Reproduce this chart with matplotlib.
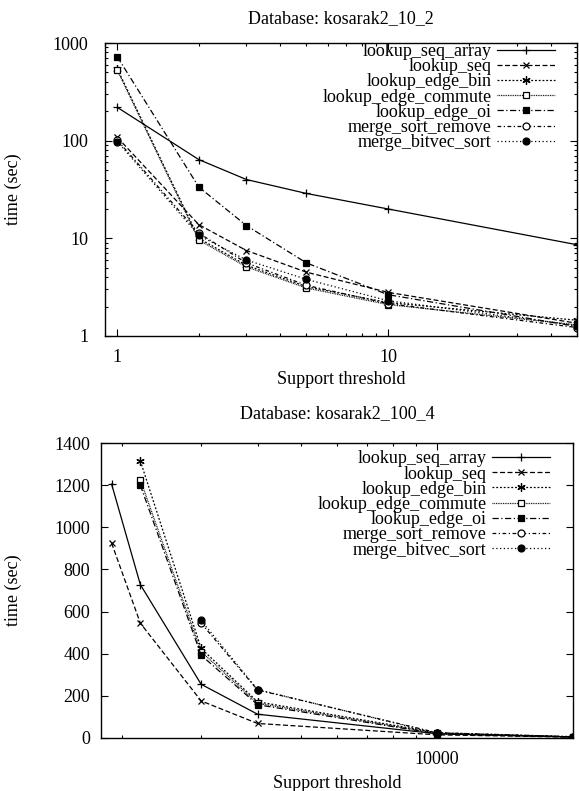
import numpy as np
import matplotlib
matplotlib.use("Agg")
import matplotlib.pyplot as plt
from matplotlib.ticker import LogLocator, NullFormatter, FixedLocator, FuncFormatter, MultipleLocator

plt.rcParams['font.family'] = ['Liberation Serif', 'DejaVu Serif']
plt.rcParams['font.size'] = 13

series_names = ["lookup_seq_array", "lookup_seq", "lookup_edge_bin",
                "lookup_edge_commute", "lookup_edge_oi",
                "merge_sort_remove", "merge_bitvec_sort"]

# Top chart: Database kosarak2_10_2
top_title = "Database: kosarak2_10_2"
top_support = [1, 2, 3, 5, 10, 50]
top_seq_array = [219, 64, 40, 28.8, 20, 8.6]
top_seq = [108, 13.8, 7.5, 4.5, 2.8, 1.35]
top_edge_bin = [540, 10.0, 5.3, 3.2, 2.2, 1.45]
top_edge_commute = [525, 9.6, 5.1, 3.1, 2.1, 1.3]
top_edge_oi = [720, 33.5, 13.5, 5.6, 2.65, 1.25]
top_merge_sort_remove = [101, 11.3, 5.6, 3.3, 2.15, 1.22]
top_merge_bitvec_sort = [98, 10.7, 6.0, 3.8, 2.3, 1.28]

# Bottom chart: Database kosarak2_100_4
bot_title = "Database: kosarak2_100_4"
bot_support = [1900, 2200, 3000, 4000, 10000, 20000]
bot_seq_array = [1205, 728, 255, 113, 20, 5]
bot_seq = [925, 545, 176, 69, 15, 4]
bot_edge_bin = [np.nan, 1315, 425, 172, 25, 6]
bot_edge_commute = [np.nan, 1225, 410, 165, 22, 5]
bot_edge_oi = [np.nan, 1200, 393, 158, 20, 5]
bot_merge_sort_remove = [np.nan, np.nan, 545, 228, 25, 6]
bot_merge_bitvec_sort = [np.nan, np.nan, 558, 230, 22, 5]

styles = [
    dict(ls='-', marker='+', ms=6, mew=0.9, mfc='black'),
    dict(ls=(0, (4, 2)), marker='x', ms=5, mew=0.9, mfc='black'),
    dict(ls=(0, (1.5, 1.5)), marker=(6, 2, 0), ms=6, mew=0.9, mfc='black'),
    dict(ls=(0, (0.7, 0.7)), marker='s', ms=5, mew=0.9, mfc='white'),
    dict(ls=(0, (5, 2, 1, 2)), marker='s', ms=5, mew=0.9, mfc='black'),
    dict(ls=(0, (3, 2, 1, 2)), marker='o', ms=5, mew=0.9, mfc='white'),
    dict(ls=(0, (1, 2)), marker='o', ms=5, mew=0.9, mfc='black'),
]

fig = plt.figure(figsize=(5.79, 7.91), dpi=100)
W, H = 579, 791

def px_axes(l, t, r, b):
    return fig.add_axes([l / W, 1 - b / H, (r - l) / W, (b - t) / H])

def draw(ax, xs, ys_list):
    for name, ys, st in zip(series_names, ys_list, styles):
        ax.plot(xs, ys, color='black', lw=0.9, mec='black', label=name, **st)

def legend(ax, anchor):
    leg = ax.legend(loc='upper right', bbox_to_anchor=anchor, frameon=False,
                    markerfirst=False, numpoints=1, handlelength=3.2,
                    handletextpad=0.3, labelspacing=-0.1, borderpad=0,
                    borderaxespad=0, fontsize=13)
    return leg

def style_ticks(ax):
    ax.tick_params(which='both', direction='in', top=True, right=True, width=0.8)
    ax.tick_params(which='major', length=5)
    ax.tick_params(which='minor', length=2.5)
    for s in ax.spines.values():
        s.set_linewidth(1.0)

# ---- top
ax1 = px_axes(105, 43, 577, 336)
draw(ax1, top_support, [top_seq_array, top_seq, top_edge_bin, top_edge_commute,
                        top_edge_oi, top_merge_sort_remove, top_merge_bitvec_sort])
ax1.set_xscale('log')
ax1.set_yscale('log')
ax1.set_xlim(0.9, 50)
ax1.set_ylim(1, 1000)
ax1.xaxis.set_major_locator(FixedLocator([1, 10]))
ax1.xaxis.set_minor_locator(LogLocator(base=10, subs=np.arange(2, 10)))
ax1.xaxis.set_major_formatter(FuncFormatter(lambda v, p: f"{v:g}"))
ax1.xaxis.set_minor_formatter(NullFormatter())
ax1.yaxis.set_major_locator(FixedLocator([1, 10, 100, 1000]))
ax1.yaxis.set_minor_locator(LogLocator(base=10, subs=np.arange(2, 10)))
ax1.yaxis.set_major_formatter(FuncFormatter(lambda v, p: f"{v:g}"))
ax1.yaxis.set_minor_formatter(NullFormatter())
style_ticks(ax1)
ax1.tick_params(axis='x', which='major', pad=9)
ax1.tick_params(axis='y', which='major', pad=12)
ax1.set_xlabel("Support threshold")
ax1.xaxis.set_label_coords(0.5, -0.12)
ax1.set_ylabel("time (sec)")
ax1.yaxis.set_label_coords(-0.176, 0.5)
ax1.set_title(top_title, y=1.083, pad=0, va='center', fontsize=13)
legend(ax1, (0.953, 1.0))

# ---- bottom
ax2 = px_axes(101, 443, 573, 738)
draw(ax2, bot_support, [bot_seq_array, bot_seq, bot_edge_bin, bot_edge_commute,
                        bot_edge_oi, bot_merge_sort_remove, bot_merge_bitvec_sort])
ax2.set_xscale('log')
ax2.set_xlim(1800, 20000)
ax2.set_ylim(0, 1400)
ax2.xaxis.set_major_locator(FixedLocator([10000]))
ax2.xaxis.set_minor_locator(LogLocator(base=10, subs=np.arange(2, 10)))
ax2.xaxis.set_major_formatter(FuncFormatter(lambda v, p: f"{v:g}"))
ax2.xaxis.set_minor_formatter(NullFormatter())
ax2.yaxis.set_major_locator(MultipleLocator(200))
style_ticks(ax2)
ax2.tick_params(axis='x', which='major', pad=9)
ax2.tick_params(axis='y', which='major', pad=8)
ax2.set_xlabel("Support threshold")
ax2.xaxis.set_label_coords(0.5, -0.125)
ax2.set_ylabel("time (sec)")
ax2.yaxis.set_label_coords(-0.167, 0.5)
ax2.set_title(bot_title, y=1.099, pad=0, va='center', fontsize=13)
legend(ax2, (0.951, 0.975))

fig.savefig("out.png", dpi=100)
